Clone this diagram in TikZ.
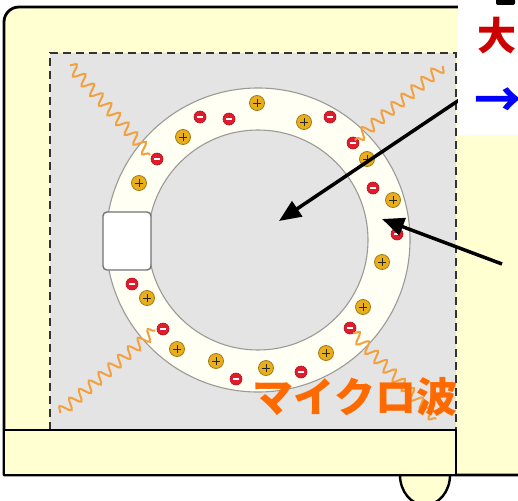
\documentclass[tikz,border=0pt]{standalone}
\usepackage{fontspec}
\newfontfamily\jp{Noto Sans CJK JP}
\usetikzlibrary{arrows.meta,decorations.pathmorphing}

\definecolor{bodyfill}{HTML}{FFFFD2}
\definecolor{cavity}{HTML}{E4E4E4}
\definecolor{ringfill}{HTML}{FFFFF3}
\definecolor{ringedge}{HTML}{9A9A96}
\definecolor{wavecol}{HTML}{F2A040}
\definecolor{plusfill}{HTML}{E8AE1C}
\definecolor{plusedge}{HTML}{A07A18}
\definecolor{minusfill}{HTML}{E01C2C}
\definecolor{minusedge}{HTML}{B01020}
\definecolor{mwcol}{HTML}{FF6A00}
\definecolor{bigred}{HTML}{CC0000}
\definecolor{arrblue}{HTML}{0000FF}

\begin{document}
\begin{tikzpicture}[x=1pt,y=-1pt,
  outline/.style={draw=black, line width=2.8pt, line join=round},
  dashline/.style={draw=black!80, line width=2pt, dash pattern=on 8pt off 5pt},
  wave/.style={draw=wavecol, line width=2pt, decorate,
    decoration={snake, segment length=13pt, amplitude=5.5pt}},
  poscharge/.style={circle, minimum size=15pt, inner sep=0pt, fill=plusfill,
    draw=plusedge, line width=0.8pt,
    path picture={
      \draw[line width=1pt, black!85]
        ([xshift=-4.2pt]path picture bounding box.center) -- ([xshift=4.2pt]path picture bounding box.center)
        ([yshift=-4.2pt]path picture bounding box.center) -- ([yshift=4.2pt]path picture bounding box.center);}},
  negcharge/.style={circle, minimum size=12pt, inner sep=0pt, fill=minusfill,
    draw=minusedge, line width=0.6pt,
    path picture={
      \draw[line width=1.4pt, white]
        ([xshift=-3.2pt]path picture bounding box.center) -- ([xshift=3.2pt]path picture bounding box.center);}},
  block/.style={draw=black!55, line width=1.4pt, fill=white, rounded corners=4pt,
    minimum width=48pt, minimum height=58pt, inner sep=0pt},
  pointer/.style={draw=black, line width=3.5pt, -{Triangle[length=22pt,width=18pt]}},
  wavelabel/.style={text=mwcol, font=\jp\bfseries\fontsize{41}{41}\selectfont, inner sep=0pt},
  keylabel/.style={font=\jp\bfseries\fontsize{39}{39}\selectfont, inner sep=0pt},
  arrowlabel/.style={font=\jp\bfseries\fontsize{48}{48}\selectfont, inner sep=0pt}
]
\useasboundingbox (0,0) rectangle (518,500);
\begin{scope}
\clip (0,0) rectangle (518,500);

% foot under the oven
\draw[outline, line width=2.4pt, fill=bodyfill] (400,475) arc[start angle=180, end angle=360, x radius=25pt, y radius=30pt];

% oven body
\draw[outline, fill=bodyfill] (4,475) {[rounded corners=15pt] -- (4,7) -- (560,7)} -- (560,475) -- cycle;

% cooking chamber
\fill[cavity] (50,53) rectangle (456,430);
\draw[dashline] (50,430) -- (50,53) -- (456,53) -- (456,430);

% tray below the chamber
\draw[outline, line width=2.4pt, fill=bodyfill] (4,430) rectangle (456,475);

% ring with its charges
\coordinate (c) at (258,240);
\filldraw[draw=ringedge, line width=1.1pt, fill=ringfill, even odd rule]
  (c) circle[radius=152pt] (c) circle[radius=110pt];

\node[block] (gap) at (127,241) {};

% positive charges
\foreach \i/\p in {1/{(257,103)},2/{(304,122)},3/{(183,137)},4/{(139,183)},
                   5/{(367,159)},6/{(393,200)},7/{(382,262)},8/{(363,307)},
                   9/{(326,353)},10/{(266,368)},11/{(216,361)},12/{(177,349)},
                   13/{(147,298)}}
  \node[poscharge] (p\i) at \p {};
% negative charges
\foreach \i/\p in {1/{(200,117)},2/{(229,119)},3/{(330,117)},4/{(157,159)},
                   5/{(353,143)},6/{(373,188)},7/{(397,234)},8/{(350,328)},
                   9/{(301,372)},10/{(236,379)},11/{(163,329)},12/{(132,284)}}
  \node[negcharge] (n\i) at \p {};

% microwaves
\coordinate (w1a) at (70,65);   \coordinate (w1b) at (150,155);
\coordinate (w2a) at (443,66);  \coordinate (w2b) at (355,140);
\coordinate (w3a) at (60,413);  \coordinate (w3b) at (155,330);
\coordinate (w4a) at (353,333); \coordinate (w4b) at (436,419);
\draw[wave] (w1a) -- (w1b);
\draw[wave] (w2a) -- (w2b);
\draw[wave] (w3a) -- (w3b);
\draw[wave] (w4a) -- (w4b);

% pointers
\coordinate (a1s) at (480,86);  \coordinate (a1e) at (279,221);
\coordinate (a2s) at (502,264); \coordinate (a2e) at (382,219);
\draw[pointer] (a1s) -- (a1e);
\draw[pointer] (a2s) -- (a2e);

% key panel
\fill[white] (458,-2) rectangle (520,135);
\fill[black, rounded corners=2pt] (496,-6) rectangle (515,5);
\node[keylabel, text=bigred] (big) at (497,36) {大};
\node[arrowlabel, text=arrblue, anchor=west] (arr) at (474,103) {→};

\node[wavelabel] (mw) at (355,397) {マイクロ波};
\end{scope}
\end{tikzpicture}
\end{document}
